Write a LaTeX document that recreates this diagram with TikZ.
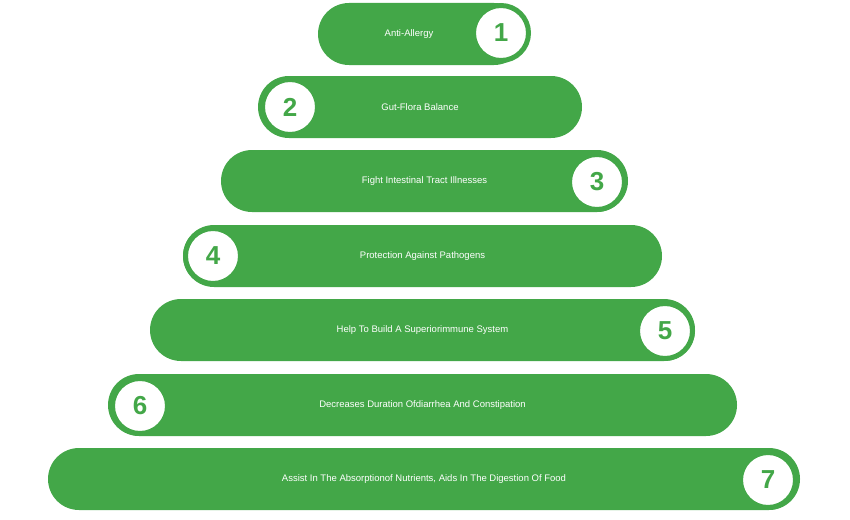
\documentclass[tikz,border=0pt]{standalone}
\usepackage{fontspec}
\setmainfont{Liberation Sans}
\usetikzlibrary{positioning}
\definecolor{leaf}{HTML}{43A748}
\tikzset{
  bar/.style={fill=leaf, rounded corners=31pt, minimum height=62pt, text=white, font=\fontsize{9.5}{11}\selectfont, inner sep=0pt},
  badge/.style={circle, fill=white, draw=leaf, line width=5pt, minimum size=55pt, text=leaf, font=\fontsize{26}{28}\selectfont\bfseries, inner sep=0pt},
}
\begin{document}
\begin{tikzpicture}[x=1pt, y=-1pt]
        \useasboundingbox (0,0) rectangle (850,519);
        \node[bar, minimum width=207pt] (B1) at (421.5,34)  {\hspace*{-25pt}Anti-Allergy};
        \node[bar, minimum width=324pt] (B2) at (420,107)   {Gut-Flora Balance};
        \node[bar, minimum width=407pt] (B3) at (424.5,181) {Fight Intestinal Tract Illnesses};
        \node[bar, minimum width=479pt] (B4) at (422.5,256) {Protection Against Pathogens};
        \node[bar, minimum width=545pt] (B5) at (422.5,330) {Help To Build A Superiorimmune System};
        \node[bar, minimum width=629pt] (B6) at (422.5,405) {Decreases Duration Ofdiarrhea And Constipation};
        \node[bar, minimum width=752pt] (B7) at (424,479)   {Assist In The Absorptionof Nutrients, Aids In The Digestion Of Food};

        \node[badge] (N1) at (501,33)  {1};
        \node[badge] (N2) at (290,107) {2};
        \node[badge] (N3) at (597,182) {3};
        \node[badge] (N4) at (213,256) {4};
        \node[badge] (N5) at (665,331) {5};
        \node[badge] (N6) at (140,406) {6};
        \node[badge] (N7) at (768,480) {7};
\end{tikzpicture}
\end{document}
